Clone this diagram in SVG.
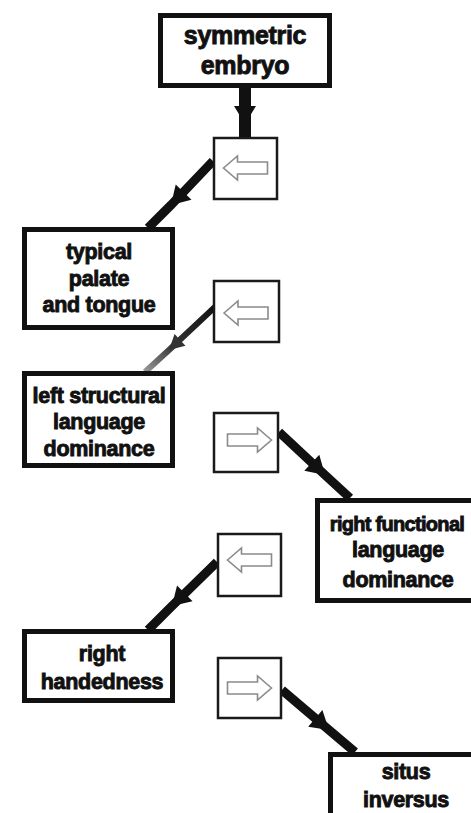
<svg xmlns="http://www.w3.org/2000/svg" width="471" height="813" viewBox="0 0 471 813">
<style>
.box{fill:#fff;stroke:#111;stroke-width:5}
.sbox{fill:#fff;stroke:#1a1a1a;stroke-width:2.5}
.ico{fill:#fff;stroke:#8a8a8a;stroke-width:1.6;stroke-linejoin:miter}
.t{font-family:"Liberation Sans",Arial,sans-serif;font-weight:bold;font-size:21.5px;fill:#111;stroke:#111;stroke-width:0.9;text-anchor:middle;letter-spacing:-0.3px}
.big{font-size:25px}
.con{fill:none;stroke:#111;stroke-width:9;stroke-linecap:butt}
</style>
<defs>
<marker id="mh" markerUnits="userSpaceOnUse" viewBox="-20 -12 22 24" refX="0" refY="0" markerWidth="22" markerHeight="24" orient="auto" overflow="visible">
<path d="M-18,-11 L0,0 L-18,11 Z" fill="#111"/>
</marker>
<marker id="mhg" markerUnits="userSpaceOnUse" viewBox="-20 -12 22 24" refX="0" refY="0" markerWidth="22" markerHeight="24" orient="auto" overflow="visible">
<path d="M-15,-8 L0,0 L-15,8 Z" fill="#333"/>
</marker>
<linearGradient id="gg" gradientUnits="userSpaceOnUse" x1="216" y1="306" x2="145" y2="372">
<stop offset="0" stop-color="#111"/>
<stop offset="0.6" stop-color="#333"/>
<stop offset="1" stop-color="#999"/>
</linearGradient>
<path id="la" d="M-22,0 L-8,-12 L-8,-6 L22,-6 L22,6 L-8,6 L-8,12 Z"/>
<path id="ra" d="M22,0 L8,-12 L8,-6 L-22,-6 L-22,6 L8,6 L8,12 Z"/>
</defs>

<g id="connectors">
<path class="con" d="M245,88 L245,124 L245,137" style="stroke-width:12" marker-mid="url(#mh)"/>
<path class="con" d="M213,161 L171,205 L148,228" marker-mid="url(#mh)"/>
<path class="con" d="M216,306 L169,350 L145,372" style="stroke:url(#gg);stroke-width:6" marker-mid="url(#mhg)"/>
<path class="con" d="M279,432 L325,475 L350,498" marker-mid="url(#mh)"/>
<path class="con" d="M217,562 L172,606 L148,630" marker-mid="url(#mh)"/>
<path class="con" d="M282,690 L329,730 L355,752" marker-mid="url(#mh)"/>
</g>

<g id="n1">
<rect class="box" x="160.5" y="15.5" width="169" height="70"/>
<text class="t big" x="245" y="44">symmetric</text>
<text class="t big" x="245" y="74">embryo</text>
</g>

<g id="s1">
<rect class="sbox" x="214" y="138" width="63" height="61"/>
<use href="#la" class="ico" transform="translate(245.5,168)"/>
</g>

<g id="n2">
<rect class="box" x="24.5" y="229.5" width="148" height="98"/>
<text class="t" x="99" y="259">typical</text>
<text class="t" x="99" y="286">palate</text>
<text class="t" x="99" y="312">and tongue</text>
</g>

<g id="s2">
<rect class="sbox" x="214" y="281" width="65" height="61"/>
<use href="#la" class="ico" transform="translate(246,313)"/>
</g>

<g id="n3">
<rect class="box" x="24.5" y="373.5" width="148" height="92"/>
<text class="t" x="99" y="403">left structural</text>
<text class="t" x="99" y="429">language</text>
<text class="t" x="99" y="456">dominance</text>
</g>

<g id="s3">
<rect class="sbox" x="214" y="413" width="64" height="59"/>
<use href="#ra" class="ico" transform="translate(249.5,440)"/>
</g>

<g id="n4">
<rect class="box" x="317.5" y="500.5" width="163" height="100"/>
<text class="t" x="397" y="531" style="font-size:20px;letter-spacing:-0.7px">right functional</text>
<text class="t" x="398" y="557">language</text>
<text class="t" x="398" y="587">dominance</text>
</g>

<g id="s4">
<rect class="sbox" x="218" y="534" width="63" height="62"/>
<use href="#la" class="ico" transform="translate(249.5,560)"/>
</g>

<g id="n5">
<rect class="box" x="24.5" y="631.5" width="148" height="69"/>
<text class="t" x="102" y="661">right</text>
<text class="t" x="102" y="689">handedness</text>
</g>

<g id="s5">
<rect class="sbox" x="218" y="658" width="63" height="60"/>
<use href="#ra" class="ico" transform="translate(249.5,688)"/>
</g>

<g id="n6">
<rect class="box" x="330.5" y="754.5" width="152" height="70"/>
<text class="t" x="406" y="779">situs</text>
<text class="t" x="406" y="807">inversus</text>
</g>
</svg>
